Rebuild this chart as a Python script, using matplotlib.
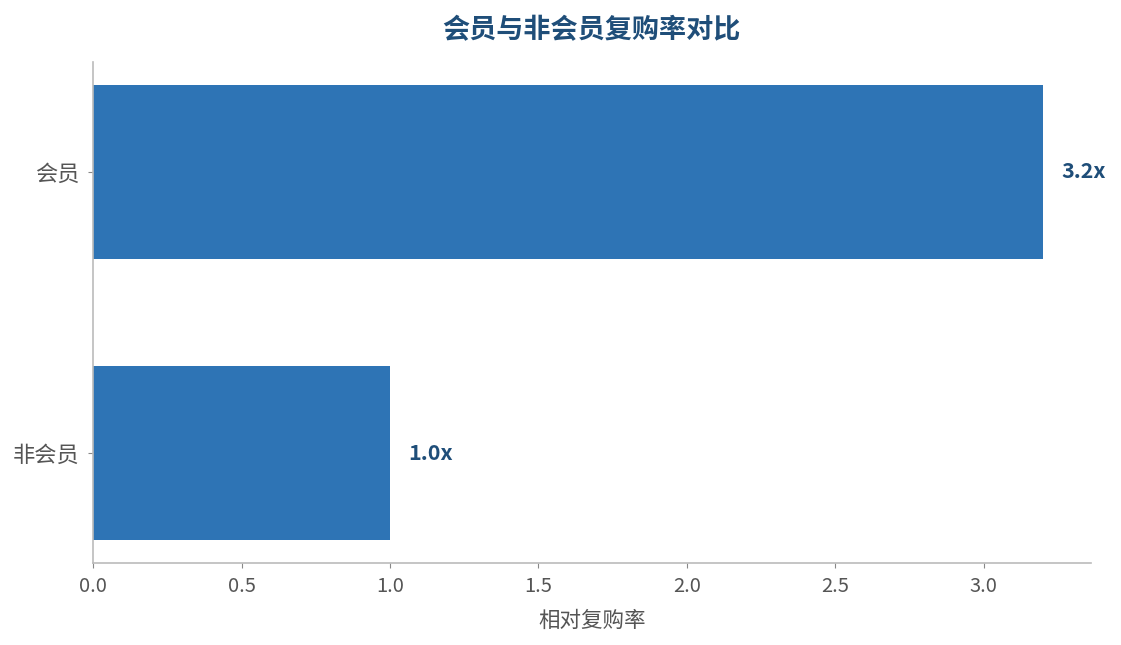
import matplotlib
matplotlib.use('Agg')
import matplotlib.pyplot as plt

plt.rcParams['font.family'] = ['Noto Sans CJK SC', 'DejaVu Sans']

# 数据
categories = ['非会员', '会员']
values = [1.0, 3.2]
value_labels = ['1.0x', '3.2x']

BAR_COLOR = '#2E74B5'
TITLE_COLOR = '#1F4E79'
TEXT_GRAY = '#555555'

fig = plt.figure(figsize=(11.21, 6.45), dpi=100)
ax = fig.add_axes([0.083, 0.127, 0.890, 0.777])

ax.barh(categories, values, height=0.62, color=BAR_COLOR)
ax.set_xlim(0, max(values) * 1.05)

# 数值标签
for y, (v, lab) in enumerate(zip(values, value_labels)):
    ax.annotate(lab, xy=(v, y), xytext=(13, 0), textcoords='offset points',
                va='center', ha='left', fontsize=15.5, fontweight='bold',
                color=TITLE_COLOR)

ax.set_title('会员与非会员复购率对比', fontsize=19.5, fontweight='bold',
             color=TITLE_COLOR, pad=17)
ax.set_xlabel('相对复购率', fontsize=15.5, color=TEXT_GRAY, labelpad=9)

for side in ['top', 'right']:
    ax.spines[side].set_visible(False)
for side in ['left', 'bottom']:
    ax.spines[side].set_color('#BBBBBB')
    ax.spines[side].set_linewidth(1.2)

ax.tick_params(axis='x', colors=TEXT_GRAY, labelsize=14.5, pad=6)
ax.tick_params(axis='y', colors=TEXT_GRAY, labelsize=16, pad=6)
ax.tick_params(axis='x', color='#888888')
ax.tick_params(axis='y', color='#888888')

fig.savefig('out.png', dpi=100, facecolor='white')
plt.close(fig)
